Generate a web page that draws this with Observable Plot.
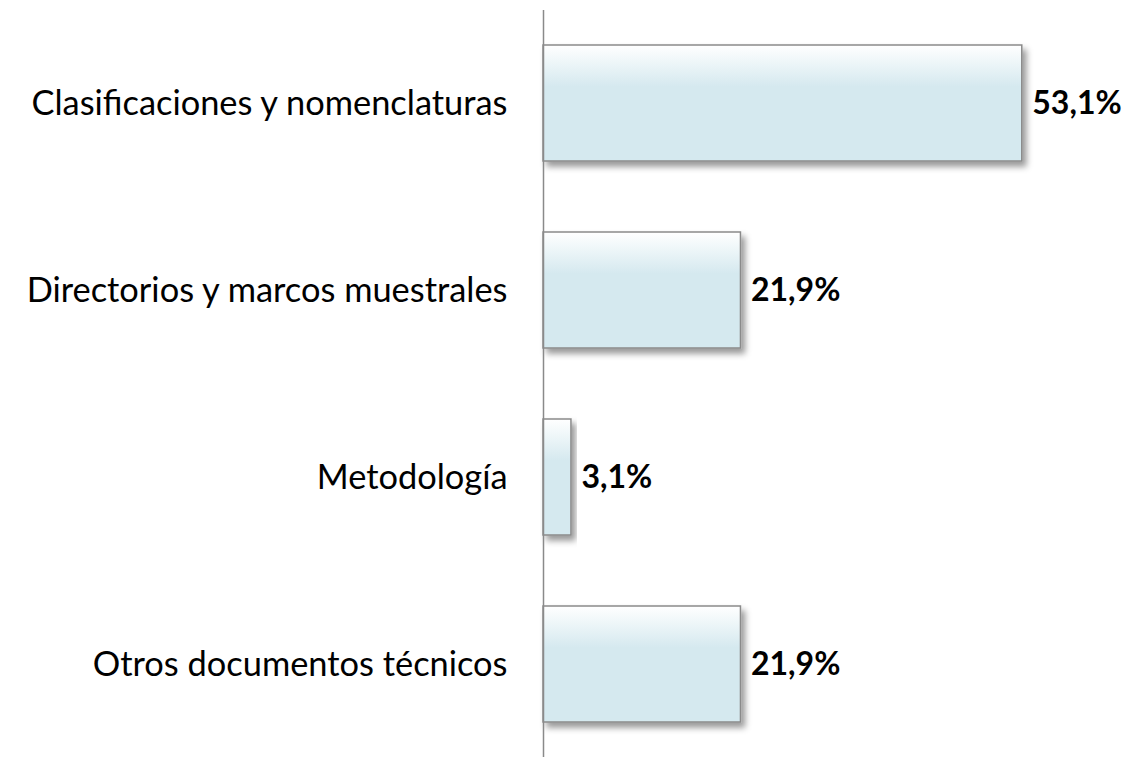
<!DOCTYPE html>
<html><head><meta charset="utf-8">
<script src="https://cdn.jsdelivr.net/npm/d3@7"></script>
<script src="https://cdn.jsdelivr.net/npm/@observablehq/plot@0.6"></script>
<style>body{margin:0;background:#fff}</style>
</head><body><div id="chart"></div>
<script>
const categories = ["Clasificaciones y nomenclaturas","Directorios y marcos muestrales","Metodología","Otros documentos técnicos"];
const values = [53.1, 21.9, 3.1, 21.9];
const labels = ["53,1%","21,9%","3,1%","21,9%"];
const data = categories.map((c,i)=>({cat:c, v:values[i], label:labels[i]}));

const plot = Plot.plot({
  width: 1130, height: 757,
  marginLeft: 543, marginRight: 46, marginTop: 10, marginBottom: 0,
  style: {fontFamily: "Lato, 'Open Sans', sans-serif", background: "#fff", color: "#000"},
  x: {domain: [0, 60], axis: null},
  y: {domain: categories, paddingInner: 0.38, paddingOuter: 0.184, label: null},
  marks: [
    Plot.axisY({tickSize: 0, tickPadding: 36, fontSize: 34.4, label: null}),
    Plot.barX(data, {y: "cat", x: "v", fill: "url(#barGrad)", stroke: "#8a8a8a", strokeWidth: 1.5}),
    Plot.text(data, {y: "cat", x: "v", text: "label", textAnchor: "start", dx: 10, fontSize: 32, fontWeight: "bold", fill: "#000"}),
    Plot.ruleX([0], {stroke: "#8a8a8a", strokeWidth: 1.5})
  ]
});
const svg = d3.select(plot);
const defs = svg.insert("defs", ":first-child");
const g = defs.append("linearGradient").attr("id","barGrad").attr("x1",0).attr("y1",0).attr("x2",0).attr("y2",1);
g.append("stop").attr("offset","0").attr("stop-color","#ffffff");
g.append("stop").attr("offset","0.36").attr("stop-color","#d5e9ef");
g.append("stop").attr("offset","1").attr("stop-color","#d5e9ef");
const f = defs.append("filter").attr("id","shadow").attr("x","-10%").attr("y","-10%").attr("width","130%").attr("height","140%");
f.append("feDropShadow").attr("dx",4).attr("dy",5).attr("stdDeviation",3).attr("flood-color","#000").attr("flood-opacity",0.4);
svg.selectAll("g[aria-label='bar'] rect").attr("filter","url(#shadow)");
document.getElementById("chart").appendChild(plot);
</script></body></html>
